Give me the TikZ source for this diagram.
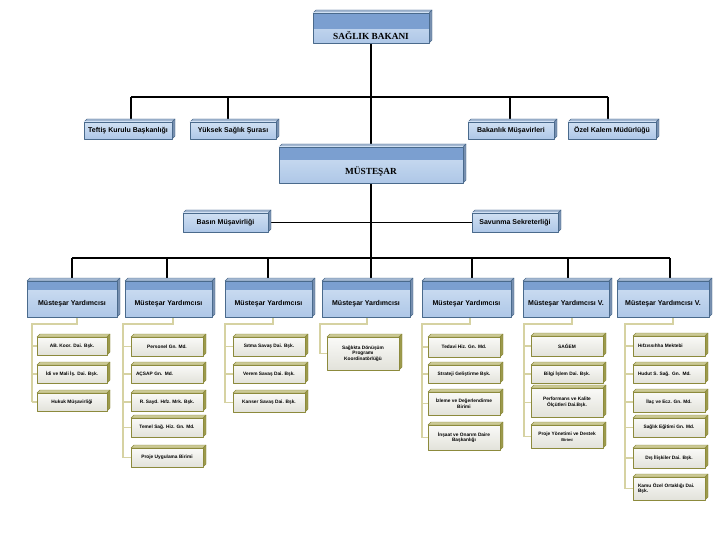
\documentclass[tikz,border=0pt]{standalone}
\usepackage{fontspec}
\setmainfont{Liberation Sans}
\newfontfamily\serifb{Liberation Serif}
\usetikzlibrary{backgrounds}
\definecolor{bband}{HTML}{7B9FD0}
\definecolor{blight}{HTML}{D0E0F3}
\definecolor{blight2}{HTML}{AEC7E7}
\definecolor{bborder}{HTML}{4A6A8C}
\definecolor{btop}{HTML}{A3B7D1}
\definecolor{bside}{HTML}{7890B0}
\definecolor{olive}{HTML}{8C8A3C}
\definecolor{oliveside}{HTML}{9C9A4C}
\definecolor{olivetop}{HTML}{CCCA96}
\definecolor{oline}{HTML}{D6D2A2}
\definecolor{gfill}{HTML}{FAFAF8}
\definecolor{gfill2}{HTML}{E2E2DA}
\newcommand\tdf[8]{%
  \filldraw[fill=#5, draw=#7, line width=0.4pt] (#1,#2) -- ({#1+#8},{#2-#8}) -- ({#3+#8},{#2-#8}) -- (#3,#2) -- cycle;
  \filldraw[fill=#6, draw=#7, line width=0.4pt] (#3,#2) -- ({#3+#8},{#2-#8}) -- ({#3+#8},{#4-#8}) -- (#3,#4) -- cycle;
}
\newcommand\mkblue[8]{%
  \tdf{#2}{#3}{#4}{#5}{btop}{bside}{bborder}{3}
  \node[bluebox, band=#6, minimum width={#4-#2}, minimum height={#5-#3}] (#1) at ({(#2+#4)/2},{(#3+#5)/2}) {};
  \node[inner sep=0, font={#7}] (#1-t) at ({(#2+#4)/2},{(#3+#6+#5)/2}) {#8};
}
\newcommand\mklight[6]{%
  \tdf{#2}{#3}{#4}{#5}{btop}{bside}{bborder}{3}
  \node[lbox, minimum width={#4-#2}, minimum height={#5-#3}] (#1) at ({(#2+#4)/2},{(#3+#5)/2}) {#6};
}
\newcommand\mksub[7]{%
  \tdf{#2}{#3}{#4}{#5}{olivetop}{oliveside}{olive}{3}
  \node[gbox, minimum width={#4-#2}, minimum height={#5-#3}, #6] (#1) at ({(#2+#4)/2},{(#3+#5)/2}) {#7};
}
\tikzset{
  bluebox/.style={draw=bborder, line width=0.5pt, top color=blight, bottom color=blight2, inner sep=0},
  band/.style={path picture={\fill[bband] (path picture bounding box.north west) rectangle ([yshift=-#1pt]path picture bounding box.north east);}},
  lbox/.style={draw=bborder, line width=0.5pt, top color=blight, bottom color=blight2, inner sep=0, font=\bfseries\fontsize{7}{8}\selectfont},
  gbox/.style={draw=olive, line width=0.6pt, top color=gfill, bottom color=gfill2, inner sep=1pt, align=center, font=\bfseries\fontsize{4.8}{5.7}\selectfont},
  lft/.style={text width=62pt, align=left},
  conn/.style={line width=1.3pt, black},
  oconn/.style={line width=1.3pt, oline},
}
\pgfdeclarelayer{bg}
\pgfsetlayers{bg,main}
\begin{document}
\begin{tikzpicture}[x=1pt,y=-1pt,line join=round]
\useasboundingbox (0,0) rectangle (720,540);
% top
\mkblue{bakan}{313}{13}{429}{43}{16}{\serifb\bfseries\fontsize{9.3}{11}\selectfont}{SAĞLIK BAKANI}
\mklight{teftis}{84}{122}{172}{139}{Teftiş Kurulu Başkanlığı}
\mklight{yuksek}{190}{122}{276}{139}{Yüksek Sağlık Şurası}
\mklight{bakmus}{468}{122}{554}{139}{Bakanlık Müşavirleri}
\mklight{ozel}{568}{122}{656}{139}{Özel Kalem Müdürlüğü}
\mkblue{must}{279}{147}{463}{183}{13}{\serifb\bfseries\fontsize{9.3}{11}\selectfont}{MÜSTEŞAR}
\mklight{basin}{183}{213}{268}{232}{Basın Müşavirliği}
\mklight{savunma}{472}{213}{558}{232}{Savunma Sekreterliği}
% row 4
\def\myf{\bfseries\fontsize{7}{8}\selectfont}
\mkblue{m1}{27}{281}{117}{317}{9}{\myf}{Müsteşar Yardımcısı}
\mkblue{m2}{125}{281}{212}{317}{9}{\myf}{Müsteşar Yardımcısı}
\mkblue{m3}{225}{281}{312}{317}{9}{\myf}{Müsteşar Yardımcısı}
\mkblue{m4}{322}{281}{410}{317}{9}{\myf}{Müsteşar Yardımcısı}
\mkblue{m5}{422}{281}{511}{317}{9}{\myf}{Müsteşar Yardımcısı}
\mkblue{m6}{523}{281}{609}{317}{9}{\myf}{Müsteşar Yardımcısı V.}
\mkblue{m7}{617}{281}{709}{317}{9}{\myf}{Müsteşar Yardımcısı V.}
% column 1
\mksub{g1a}{37}{337}{107}{355}{}{AB. Koor. Dai. Bşk.}
\mksub{g1b}{37}{365}{107}{383}{}{İdi ve Mali İş. Dai. Bşk.}
\mksub{g1c}{37}{393}{107}{411}{}{Hukuk Müşavirliği}
% column 2
\mksub{g2a}{131}{337}{203}{356}{}{Personel Gn. Md.}
\mksub{g2b}{131}{365}{203}{383}{lft}{AÇSAP Gn. Md.}
\mksub{g2c}{131}{393}{203}{411}{}{R. Sayd. Hıfz. Mrk. Bşk.}
\mksub{g2d}{131}{418}{203}{437}{}{Temel Sağ. Hiz. Gn. Md.}
\mksub{g2e}{131}{448}{203}{467}{}{Proje Uygulama Birimi}
% column 3
\mksub{g3a}{233}{337}{305}{356}{}{Sıtma Savaş Dai. Bşk.}
\mksub{g3b}{233}{365}{305}{383}{}{Verem Savaş Dai. Bşk.}
\mksub{g3c}{233}{393}{305}{412}{}{Kanser Savaş Dai. Bşk.}
% column 4
\mksub{g4a}{327}{337}{399}{370}{}{Sağlıkta Dönüşüm\\Programı\\Koordinatörlüğü}
% column 5
\mksub{g5a}{428}{337}{500}{357}{}{Tedavi Hiz. Gn. Md.}
\mksub{g5b}{428}{365}{500}{383}{}{Strateji Geliştirme Bşk.}
\mksub{g5c}{428}{392}{500}{415}{}{İzleme ve Değerlendirme\\Birimi}
\mksub{g5d}{428}{425}{500}{450}{}{İnşaat ve Onarım Daire\\Başkanlığı}
% column 6
\mksub{g6a}{531}{336}{603}{356}{}{SAĞEM}
\mksub{g6b}{531}{365}{603}{383}{}{Bilgi İşlem Dai. Bşk.}
\mksub{g6c}{531}{388}{603}{417}{}{Performans ve Kalite\\Ölçütleri Dai.Bşk.}
\mksub{g6d}{531}{425}{603}{448}{}{Proje Yönetimi ve Destek\\{\fontsize{4}{5}\selectfont Birimi}}
% column 7
\mksub{g7a}{633}{336}{705}{356}{lft}{Hıfzıssıhha Mektebi}
\mksub{g7b}{633}{365}{705}{383}{lft}{Hudut S. Sağ. Gn. Md.}
\mksub{g7c}{633}{392}{705}{412}{}{İlaç ve Ecz. Gn. Md.}
\mksub{g7d}{633}{418}{705}{437}{}{Sağlık Eğitimi Gn. Md.}
\mksub{g7e}{633}{448}{705}{468}{}{Dış İlişkiler Dai. Bşk.}
\mksub{g7f}{633}{477}{705}{500}{lft}{Kamu Özel Ortaklığı Dai.\\Bşk.}
% connectors
\begin{pgfonlayer}{bg}
\fill[white] (0,0) rectangle (720,540);
\draw[conn] (bakan.south) -- (must.north);
\coordinate (t1) at (131,97);
\coordinate (t2) at (228,97);
\coordinate (t3) at (510,97);
\coordinate (t4) at (608,97);
\draw[conn] (t1) -- (t4);
\draw[conn] (t1) -- (t1 |- teftis.north);
\draw[conn] (t2) -- (t2 |- yuksek.north);
\draw[conn] (t3) -- (t3 |- bakmus.north);
\draw[conn] (t4) -- (t4 |- ozel.north);
\draw[conn] (basin.east) -- (savunma.west);
\coordinate (r1) at (72,258);
\coordinate (r2) at (167,258);
\coordinate (r3) at (268,258);
\coordinate (r4) at (371,258);
\coordinate (r5) at (472,258);
\coordinate (r6) at (568,258);
\coordinate (r7) at (670,258);
\draw[conn] (must.south) -- (r4);
\draw[conn] (r1) -- (r7);
\foreach \k in {1,...,7} \draw[conn] (r\k) -- (r\k |- m\k.north);
% olive connectors
\foreach \k/\xp/\xv/\last/\list in {1/77/32/g1c/{g1a,g1b,g1c},2/173/123/g2e/{g2a,g2b,g2c,g2d,g2e},3/273/225/g3c/{g3a,g3b,g3c},4/367/320/g4a/{g4a},5/470/422/g5d/{g5a,g5b,g5c,g5d},6/572/524/g6d/{g6a,g6b,g6c,g6d},7/673/625/g7f/{g7a,g7b,g7c,g7d,g7e,g7f}}{
  \coordinate (o\k) at (\xp,324);
  \coordinate (v\k) at (\xv,324);
  \draw[oconn] (o\k |- m\k.south) -- (o\k) -- (v\k) -- (v\k |- \last.west);
  \foreach \n in \list \draw[oconn] (v\k |- \n.west) -- (\n.west);
}
\end{pgfonlayer}
\end{tikzpicture}
\end{document}
